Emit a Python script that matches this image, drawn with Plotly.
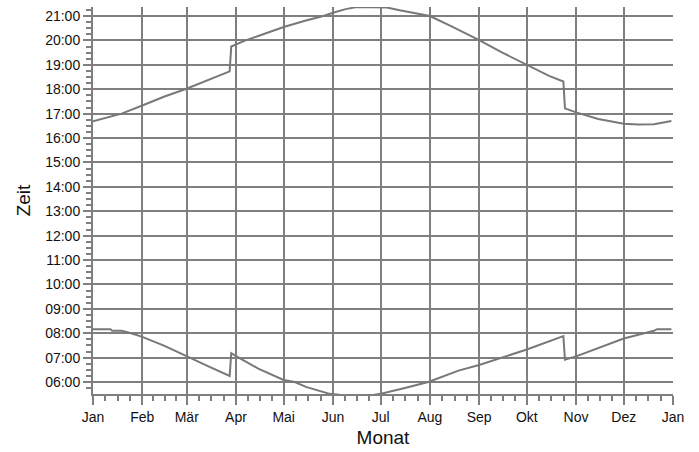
import pandas as pd
import plotly.graph_objects as go

# ---- data (year with DST on 29 Mar / 25 Oct) ----
sunset_dates = ["2015-01-01", "2015-01-10", "2015-01-19", "2015-02-01", "2015-02-15",
                "2015-02-28", "2015-03-15", "2015-03-28", "2015-03-29", "2015-04-07",
                "2015-04-15", "2015-05-01", "2015-05-15", "2015-05-26", "2015-06-01",
                "2015-06-09", "2015-06-16", "2015-06-24", "2015-07-05", "2015-07-13",
                "2015-08-01", "2015-08-15", "2015-09-01", "2015-09-15", "2015-10-01",
                "2015-10-15", "2015-10-24", "2015-10-25", "2015-11-01", "2015-11-15",
                "2015-12-01", "2015-12-10", "2015-12-20", "2015-12-31"]
sunset_times = ["16:41", "16:50", "17:00", "17:20", "17:42",
                "18:00", "18:24", "18:44", "19:45", "20:00",
                "20:11", "20:33", "20:49", "21:00", "21:08",
                "21:17", "21:22", "21:22", "21:21", "21:14",
                "21:00", "20:34", "20:01", "19:31", "19:01",
                "18:33", "18:19", "17:13", "17:03", "16:47",
                "16:35", "16:33", "16:34", "16:42"]

sunrise_dates = ["2015-01-01", "2015-01-12", "2015-01-13", "2015-01-19", "2015-01-25",
                 "2015-02-01", "2015-02-15", "2015-03-01", "2015-03-15", "2015-03-28",
                 "2015-03-29", "2015-04-01", "2015-04-15", "2015-05-01", "2015-05-08",
                 "2015-05-15", "2015-05-30", "2015-06-05", "2015-06-17", "2015-06-27",
                 "2015-07-02", "2015-07-15", "2015-07-31", "2015-08-19", "2015-09-01",
                 "2015-10-01", "2015-10-24", "2015-10-25", "2015-11-01", "2015-12-01",
                 "2015-12-20", "2015-12-22", "2015-12-31"]
sunrise_times = ["08:10", "08:10", "08:06", "08:06", "08:00",
                 "07:51", "07:29", "07:03", "06:38", "06:15",
                 "07:11", "07:04", "06:33", "06:05", "06:00",
                 "05:48", "05:31", "05:29", "05:27", "05:29",
                 "05:32", "05:44", "06:00", "06:28", "06:42",
                 "07:20", "07:53", "06:55", "07:03", "07:47",
                 "08:06", "08:10", "08:10"]

month_starts = ["2015-01-01", "2015-02-01", "2015-03-01", "2015-04-01", "2015-05-01",
                "2015-06-01", "2015-07-01", "2015-08-01", "2015-09-01", "2015-10-01",
                "2015-11-01", "2015-12-01", "2016-01-01"]
month_labels = ["Jan", "Feb", "Mär", "Apr", "Mai", "Jun", "Jul", "Aug", "Sep", "Okt",
                "Nov", "Dez", "Jan"]
hour_ticks = list(range(6, 22))
hour_labels = [f"{h:02d}:00" for h in hour_ticks]


def to_hours(s):
    h, m = s.split(":")
    return int(h) + int(m) / 60.0


# minor ticks: each month divided in four
minor_vals = []
ms = [pd.Timestamp(d) for d in month_starts]
for a, b in zip(ms[:-1], ms[1:]):
    for k in (1, 2, 3):
        minor_vals.append((a + (b - a) * k / 4).strftime("%Y-%m-%d %H:%M:%S"))

GRAY = "#7f7f7f"
LINE = "#787878"
FONT = "Liberation Sans, Arial, sans-serif"

fig = go.Figure()
fig.add_trace(go.Scatter(x=sunset_dates, y=[to_hours(t) for t in sunset_times],
                         mode="lines", line=dict(color=LINE, width=2), showlegend=False))
fig.add_trace(go.Scatter(x=sunrise_dates, y=[to_hours(t) for t in sunrise_times],
                         mode="lines", line=dict(color=LINE, width=2), showlegend=False))

fig.update_layout(
    width=699, height=452,
    margin=dict(l=93, r=26, t=7, b=58),
    paper_bgcolor="white", plot_bgcolor="white",
    font=dict(family=FONT, size=14, color="#111"),
    xaxis=dict(
        type="date", range=["2015-01-01", "2016-01-01"],
        tickmode="array", tickvals=month_starts, ticktext=month_labels,
        ticks="outside", ticklen=9, tickwidth=2, tickcolor=GRAY,
        showline=True, linecolor=GRAY, linewidth=2,
        showgrid=True, gridcolor=GRAY, gridwidth=2, zeroline=False,
        tickfont=dict(size=14, family=FONT, color="#111"),
        minor=dict(tickmode="array", tickvals=minor_vals, ticks="outside",
                   ticklen=5, tickwidth=2, tickcolor=GRAY, showgrid=False),
        title=dict(text="Monat", font=dict(size=19, family=FONT, color="#111"), standoff=7),
    ),
    yaxis=dict(
        range=[5.51, 21.37],
        tickmode="array", tickvals=hour_ticks, ticktext=hour_labels,
        ticks="outside", ticklen=8, tickwidth=2, tickcolor=GRAY,
        showline=True, linecolor=GRAY, linewidth=2,
        showgrid=True, gridcolor=GRAY, gridwidth=2, zeroline=False,
        tickfont=dict(size=14, family=FONT, color="#111"),
        minor=dict(dtick=0.25, tick0=0, ticks="outside", ticklen=5, tickwidth=2,
                   tickcolor=GRAY, showgrid=False),
        title=dict(text="Zeit", font=dict(size=19, family=FONT, color="#111"), standoff=10),
    ),
)

fig.write_html("out.html", config={"displayModeBar": False},
               post_script="document.body.style.margin='0px';document.body.style.padding='0px';")
